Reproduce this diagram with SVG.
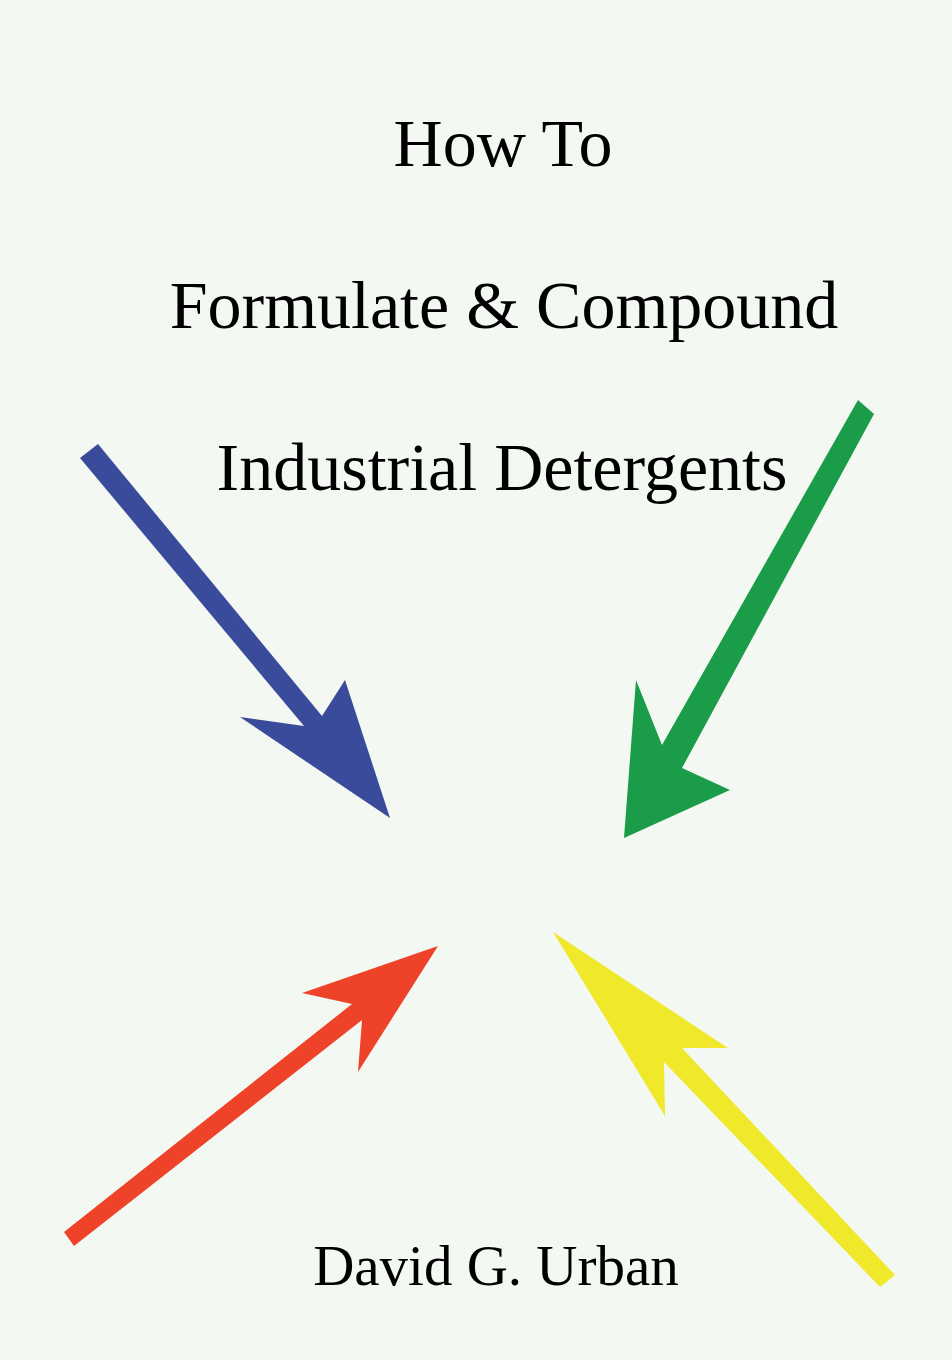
<svg xmlns="http://www.w3.org/2000/svg" width="952" height="1360" viewBox="0 0 952 1360">
<style>text{font-family:"Liberation Serif","Times New Roman",serif;fill:#000;text-anchor:middle}</style>
<rect width="952" height="1360" fill="#f3f8f2"/>
<g id="title">
<text x="503" y="166" font-size="68">How To</text>
<text x="504" y="328" font-size="68">Formulate &amp; Compound</text>
<text x="502" y="490" font-size="68">Industrial Detergents</text>
</g>
<g id="author"><text x="496" y="1285" font-size="57">David G. Urban</text></g>
<g id="arrows">
<polygon id="blue" fill="#3a4b9c" points="98,444 322,716 345,680 390,818 240,717 304,726 80,458"/>
<polygon id="green" fill="#1a9c48" points="874,414 682,768 730,790 624,838 636,680 662,745 858,400"/>
<polygon id="red" fill="#ee4329" points="64,1232 352,1004 302,993 438,946 358,1072 362,1020 74,1246"/>
<polygon id="yellow" fill="#f0e82a" points="553,932 728,1048 682,1048 895,1275 880,1287 664,1062 665,1116"/>
</g>
</svg>
